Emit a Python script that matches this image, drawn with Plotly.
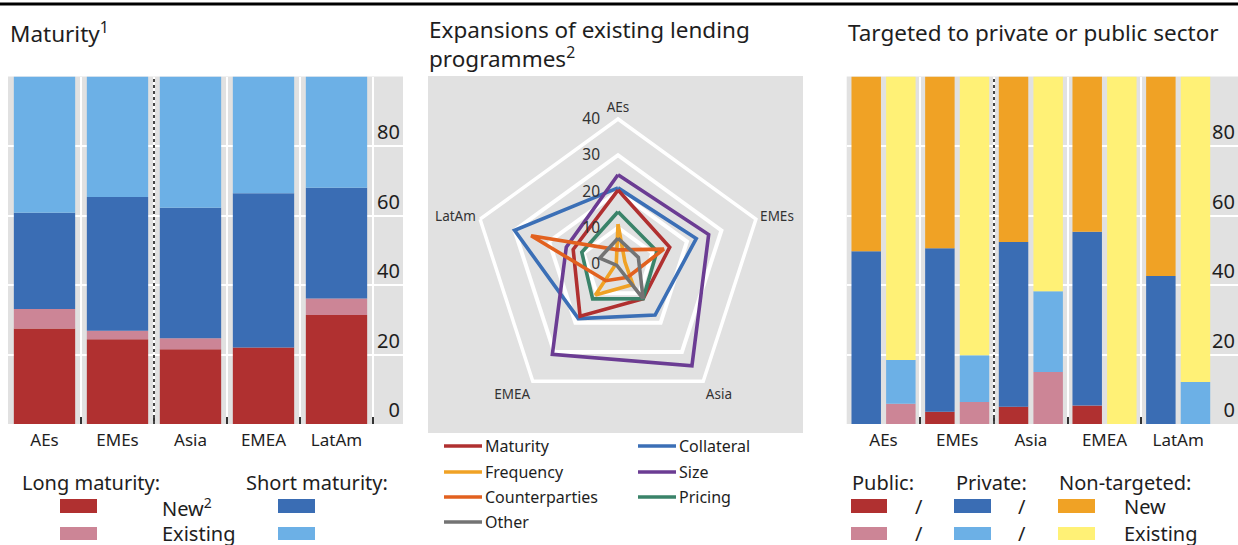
import numpy as np
import plotly.graph_objects as go

W, H = 1238, 545

REGIONS = ["AEs", "EMEs", "Asia", "EMEA", "LatAm"]

# Maturity panel, shares in per cent (stacked bottom-up)
long_new = [27.5, 24.4, 21.5, 22.0, 31.4]
long_existing = [5.6, 2.4, 3.2, 0.0, 4.7]
short_new = [27.7, 38.5, 37.5, 44.4, 31.9]
short_existing = [39.2, 34.7, 37.8, 33.6, 32.0]

# Radar panel: expansions of existing lending programmes
RADAR_AXES = ["AEs", "EMEs", "Asia", "EMEA", "LatAm"]
maturity = [20.4, 15.0, 11.8, 17.8, 13.0]
collateral = [21.0, 22.7, 17.4, 18.6, 30.0]
frequency = [11.0, 2.0, 7.0, 10.6, 0.5]
size = [24.6, 26.3, 34.7, 30.8, 15.0]
counterparties = [3.9, 13.3, 4.5, 5.7, 25.2]
pricing = [14.4, 11.3, 11.8, 11.9, 10.5]
other = [7.1, 5.9, 11.8, 0.5, 5.3]
RADAR_TICKS = [0, 10, 20, 30, 40]

# Targeting panel (new bar / existing bar per region)
public_new = [0.0, 3.5, 5.0, 5.3, 0.0]
private_new = [49.7, 47.1, 47.4, 50.0, 42.6]
nontargeted_new = [50.3, 49.4, 47.6, 44.7, 57.4]
public_existing = [5.8, 6.3, 15.0, 0.0, 0.0]
private_existing = [12.6, 13.5, 23.2, 0.0, 12.1]
nontargeted_existing = [81.6, 80.2, 61.8, 100.0, 87.9]
BAR_TICKS = [0, 20, 40, 60, 80]

RED = "#b03030"
PINK = "#cc8596"
DBLUE = "#3a6db4"
LBLUE = "#6cb0e6"
ORANGE = "#f0a225"
YELLOW = "#fff176"
GREY_BG = "#e1e1e1"
TEXT = "#1e1e1e"
FONT = "Noto Sans, sans-serif"

RADAR_COLORS = {
    "Maturity": "#b03030",
    "Collateral": "#3b6fb6",
    "Frequency": "#f0a225",
    "Size": "#6b3c93",
    "Counterparties": "#e2611f",
    "Pricing": "#3a8369",
    "Other": "#737373",
}


def px(x):
    return x / W


def py(y):
    return 1 - y / H


def add_stack(fig, series, colors, xa, ya, width, offset=None):
    base = np.zeros(len(REGIONS))
    for vals, col in zip(series, colors):
        fig.add_trace(go.Bar(
            x=REGIONS, y=vals, base=base.copy(), width=width, offset=offset,
            marker=dict(color=col, line_width=0), xaxis=xa, yaxis=ya,
            showlegend=False, hoverinfo="skip",
        ))
        base += np.array(vals)


fig = go.Figure()

# left panel
add_stack(fig, [long_new, long_existing, short_new, short_existing],
          [RED, PINK, DBLUE, LBLUE], "x", "y", width=0.84)

# right panel: two stacked bars per region
add_stack(fig, [public_new, private_new, nontargeted_new],
          [RED, DBLUE, ORANGE], "x2", "y2", width=0.4, offset=-0.435)
add_stack(fig, [public_existing, private_existing, nontargeted_existing],
          [PINK, LBLUE, YELLOW], "x2", "y2", width=0.4, offset=0.035)

# middle radar
radar = [
    ("Collateral", collateral), ("Size", size), ("Maturity", maturity),
    ("Pricing", pricing), ("Frequency", frequency),
    ("Counterparties", counterparties), ("Other", other),
]
theta = RADAR_AXES + [RADAR_AXES[0]]
for name, vals in radar:
    fig.add_trace(go.Scatterpolar(
        r=list(vals) + [vals[0]], theta=theta, mode="lines", name=name,
        line=dict(color=RADAR_COLORS[name], width=3.6),
        showlegend=False, hoverinfo="skip",
    ))

bar_x = dict(
    type="category", tickson="boundaries", showgrid=True, gridcolor="white",
    gridwidth=2, ticks="inside", ticklen=7, tickwidth=1.5, tickcolor="#333",
    tickfont=dict(size=17, color=TEXT), showline=False, zeroline=False,
    ticklabelstandoff=4,
)
bar_y = dict(
    range=[0, 100], tickvals=BAR_TICKS, side="right",
    ticklabelposition="inside top", showgrid=True, gridcolor="white",
    gridwidth=1.5, zeroline=False, ticks="", tickfont=dict(size=20, color=TEXT),
)

shapes = [
    # top rule
    dict(type="line", xref="paper", yref="paper", x0=0, x1=1, y0=py(4), y1=py(4),
         line=dict(color="black", width=3)),
    # radar background
    dict(type="rect", xref="paper", yref="paper", x0=px(428), x1=px(803),
         y0=py(433), y1=py(76), fillcolor=GREY_BG, line_width=0, layer="below"),
]
for xa, ya in (("x", "y"), ("x2", "y2")):
    shapes.append(dict(type="line", xref=xa, yref=ya + " domain", x0=1.5, x1=1.5,
                       y0=0, y1=1, line=dict(color="#444", width=2, dash="dot")))

annotations = []


def text(x, y, s, size=20, anchor="left"):
    annotations.append(dict(x=px(x), y=py(y), xref="paper", yref="paper", text=s,
                            showarrow=False, xanchor=anchor, yanchor="middle",
                            font=dict(size=size, color=TEXT, family=FONT)))


def swatch(x0, x1, y0, y1, col):
    shapes.append(dict(type="rect", xref="paper", yref="paper", x0=px(x0), x1=px(x1),
                       y0=py(y1), y1=py(y0), fillcolor=col, line_width=0))


def legline(x0, x1, y, col):
    shapes.append(dict(type="line", xref="paper", yref="paper", x0=px(x0), x1=px(x1),
                       y0=py(y), y1=py(y), line=dict(color=col, width=3.5)))


# titles
text(8, 32, "Maturity<sup>1</sup>", size=22.5)
annotations.append(dict(x=px(427), y=py(12), xref="paper", yref="paper",
                        text="Expansions of existing lending<br>programmes<sup>2</sup>",
                        showarrow=False, xanchor="left", yanchor="top", align="left",
                        font=dict(size=22.5, color=TEXT, family=FONT)))
text(846, 32, "Targeted to private or public sector", size=22.5)

# left legend
text(20, 482, "Long maturity:")
text(244, 482, "Short maturity:")
swatch(60, 97, 499, 513, RED)
swatch(60, 97, 527, 540, PINK)
swatch(278, 315, 499, 513, DBLUE)
swatch(278, 315, 527, 540, LBLUE)
text(160, 507, "New<sup>2</sup>")
text(160, 533, "Existing")

# middle legend
leg = [("Maturity", 444, 446), ("Frequency", 444, 472), ("Counterparties", 444, 497),
       ("Other", 444, 522), ("Collateral", 638, 446), ("Size", 638, 472),
       ("Pricing", 638, 497)]
for name, x0, y in leg:
    legline(x0, x0 + 38, y, RADAR_COLORS[name])
    text(x0 + 39, y, name, size=16)

# right legend
text(850, 482, "Public:")
text(954, 482, "Private:")
text(1057, 482, "Non-targeted:")
for y0, y1, cols, label in ((499, 513, (RED, DBLUE, ORANGE), "New"),
                            (527, 540, (PINK, LBLUE, YELLOW), "Existing")):
    swatch(851, 887, y0, y1, cols[0])
    swatch(954, 991, y0, y1, cols[1])
    swatch(1058, 1095, y0, y1, cols[2])
    text(919, (y0 + y1) / 2, "/", anchor="center")
    text(1022, (y0 + y1) / 2, "/", anchor="center")
    text(1122, (y0 + y1) / 2, label)

fig.update_layout(
    width=W, height=H,
    margin=dict(l=0, r=0, t=0, b=0),
    paper_bgcolor="white", plot_bgcolor=GREY_BG,
    font=dict(family=FONT, color=TEXT),
    barmode="overlay",
    showlegend=False,
    xaxis=dict(bar_x, domain=[px(8), px(403)], range=[-0.5, -0.5 + 395 / 73.0]),
    yaxis=dict(bar_y, domain=[py(424), py(76.5)]),
    xaxis2=dict(bar_x, anchor="y2", domain=[px(846.7), 1.0],
                range=[-0.5, -0.5 + 391.3 / 73.66]),
    yaxis2=dict(bar_y, anchor="x2", domain=[py(424), py(76.5)]),
    polar=dict(
        domain=dict(x=[px(473), px(763)], y=[py(409), py(119)]),
        bgcolor="rgba(0,0,0,0)", gridshape="linear",
        angularaxis=dict(rotation=90, direction="clockwise", type="category",
                         categoryarray=RADAR_AXES, showgrid=False, showline=True,
                         linecolor="white", linewidth=3.5, ticks="",
                         tickfont=dict(size=13.5, color="#333")),
        radialaxis=dict(range=[0, 40], tickvals=RADAR_TICKS, angle=90, tickangle=90,
                        side="counterclockwise", showline=False, gridcolor="white",
                        gridwidth=3.5, ticks="outside", ticklen=12,
                        tickcolor="rgba(0,0,0,0)",
                        tickfont=dict(size=15.5, color="#333")),
    ),
    shapes=shapes,
    annotations=annotations,
)

# the page's default body margin would shift the whole figure by 8px
fig.write_html("out.html", config={"displayModeBar": False},
               post_script="document.body.style.margin='0';")
